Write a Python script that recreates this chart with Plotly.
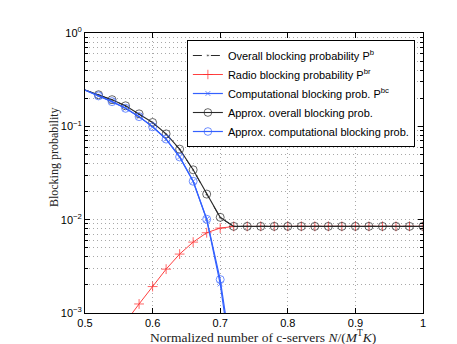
import plotly.graph_objects as go

x_vals = [0.50, 0.52, 0.54, 0.56, 0.58, 0.60, 0.62, 0.64, 0.66, 0.68, 0.70, 0.72, 0.74,
          0.76, 0.78, 0.80, 0.82, 0.84, 0.86, 0.88, 0.90, 0.92, 0.94, 0.96, 0.98, 1.00]

overall = [0.245, 0.217, 0.192, 0.165, 0.135, 0.109, 0.082, 0.0566, 0.034, 0.0186, 0.0105,
           0.00848, 0.00848, 0.00848, 0.00848, 0.00848, 0.00848, 0.00848, 0.00848, 0.00848,
           0.00848, 0.00848, 0.00848, 0.00848, 0.00848, 0.00848]
radio = [1.5e-4, 2.8e-4, 4.8e-4, 8.0e-4, 1.25e-3, 1.92e-3, 2.95e-3, 4.28e-3, 5.75e-3, 7.24e-3,
         8.13e-3, 8.45e-3, 8.48e-3, 8.48e-3, 8.48e-3, 8.48e-3, 8.48e-3, 8.48e-3, 8.48e-3,
         8.48e-3, 8.48e-3, 8.48e-3, 8.48e-3, 8.48e-3, 8.48e-3, 8.48e-3]
computational = [0.245, 0.212, 0.184, 0.156, 0.127, 0.099, 0.073, 0.047, 0.0258, 0.0101, 0.00205,
                 2.0e-4, 1.0e-5, 3.0e-7, 5.0e-9, 5.0e-11, 3.0e-13, 1.0e-15, 1e-17, 1e-19,
                 1e-21, 1e-23, 1e-25, 1e-27, 1e-29, 1e-31]
approx_overall = [0.245, 0.218, 0.193, 0.166, 0.136, 0.110, 0.083, 0.0570, 0.0342, 0.0188, 0.0106,
                  0.00848, 0.00848, 0.00848, 0.00848, 0.00848, 0.00848, 0.00848, 0.00848, 0.00848,
                  0.00848, 0.00848, 0.00848, 0.00848, 0.00848, 0.00848]
approx_computational = [0.245, 0.212, 0.184, 0.156, 0.127, 0.099, 0.073, 0.047, 0.0258, 0.0101, 0.00228,
                        2.5e-4, 1.2e-5, 4.0e-7, 6.0e-9, 6.0e-11, 4.0e-13, 2.0e-15, 1e-17, 1e-19,
                        1e-21, 1e-23, 1e-25, 1e-27, 1e-29, 1e-31]

y_tick_vals = [1, 0.1, 0.01, 0.001]
y_tick_text = ["10<sup>0</sup>", "10<sup>\u22121</sup>", "10<sup>\u22122</sup>", "10<sup>\u22123</sup>"]
x_tick_vals = [0.5, 0.6, 0.7, 0.8, 0.9, 1.0]
x_tick_text = ["0.5", "0.6", "0.7", "0.8", "0.9", "1"]

names = ["Overall blocking probability P<sup>b</sup>",
         "Radio blocking probability P<sup>br</sup>",
         "Computational blocking prob. P<sup>bc</sup>",
         "Approx. overall blocking prob.",
         "Approx. computational blocking prob."]
x_title = "Normalized number of c-servers <i>N</i>/(<i>M</i><sup>T</sup><i>K</i>)"
y_title = "Blocking probability"

BLUE = "#3461ff"
RED = "#ff2a2a"
BLACK = "#2a2a2a"

def msizes(s):
    return [0] + [s] * (len(x_vals) - 1)

fig = go.Figure()
fig.add_trace(go.Scatter(x=x_vals, y=overall, name=names[0], mode="lines+markers",
                         line=dict(color=BLACK, width=1.0, dash="dash"),
                         marker=dict(symbol="circle", size=msizes(3), color=BLACK)))
fig.add_trace(go.Scatter(x=x_vals, y=radio, name=names[1], mode="lines+markers",
                         line=dict(color=RED, width=0.9),
                         marker=dict(symbol="cross-thin", size=msizes(7),
                                     line=dict(color=RED, width=1))))
fig.add_trace(go.Scatter(x=x_vals, y=computational, name=names[2], mode="lines+markers",
                         line=dict(color=BLUE, width=1.2),
                         marker=dict(symbol="x-thin", size=msizes(5),
                                     line=dict(color=BLUE, width=1))))
fig.add_trace(go.Scatter(x=x_vals, y=approx_overall, name=names[3], mode="lines+markers",
                         line=dict(color=BLACK, width=1.1),
                         marker=dict(symbol="circle-open", size=msizes(8), color=BLACK,
                                     line=dict(width=1))))
fig.add_trace(go.Scatter(x=x_vals, y=approx_computational, name=names[4], mode="lines+markers",
                         line=dict(color=BLUE, width=1.2),
                         marker=dict(symbol="circle-open", size=msizes(8), color=BLUE,
                                     line=dict(width=1))))

grid_col = "#a8a8a8"
serif = "Liberation Serif, DejaVu Serif, serif"
fig.update_layout(
    width=457, height=344,
    margin=dict(l=77, r=42, t=25, b=39),
    paper_bgcolor="white", plot_bgcolor="white",
    font=dict(family="Liberation Sans, Arial, sans-serif", size=11, color="black"),
    showlegend=True,
    legend=dict(x=0.976, y=0.975, xanchor="right", yanchor="top",
                bgcolor="white", bordercolor="black", borderwidth=1,
                font=dict(size=11, family="Liberation Sans, Arial, sans-serif"),
                itemwidth=30, tracegroupgap=0),
    annotations=[
        dict(text=x_title, xref="paper", yref="paper", x=0.527, y=-0.0857,
             xanchor="center", yanchor="middle", showarrow=False,
             font=dict(family=serif, size=13.5, color="#222")),
        dict(text=y_title, xref="paper", yref="paper", x=-0.0917, y=0.557,
             xanchor="center", yanchor="middle", showarrow=False, textangle=-90,
             font=dict(family=serif, size=12, color="#222")),
    ],
)
fig.update_xaxes(range=[0.5, 1.0], tickvals=x_tick_vals, ticktext=x_tick_text,
                 showline=True, linecolor="black", linewidth=1, mirror="allticks",
                 ticks="inside", ticklen=5, tickcolor="black",
                 showgrid=True, gridcolor=grid_col, griddash="1px,3px", gridwidth=1,
                 zeroline=False)
fig.update_yaxes(type="log", range=[-3, 0], tickvals=y_tick_vals, ticktext=y_tick_text,
                 showline=True, linecolor="black", linewidth=1, mirror="allticks",
                 ticks="inside", ticklen=5, tickcolor="black",
                 showgrid=True, gridcolor=grid_col, griddash="1px,3px", gridwidth=1,
                 zeroline=False,
                 minor=dict(dtick="D1", ticks="inside", ticklen=3, tickcolor="black",
                            showgrid=True, gridcolor=grid_col, griddash="1px,3px", gridwidth=1))

fig.write_html("out.html")
